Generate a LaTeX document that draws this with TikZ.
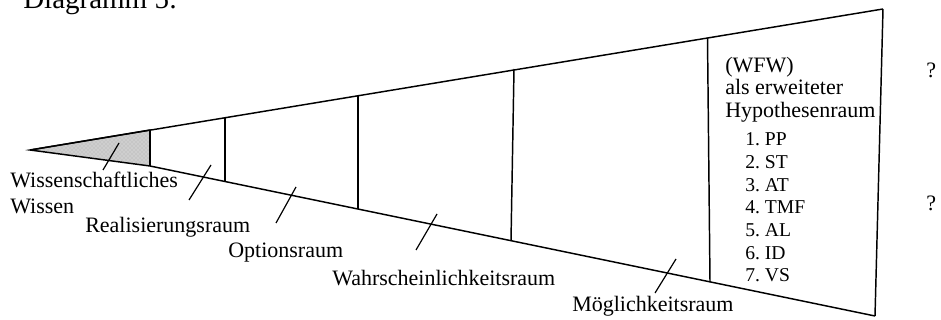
\documentclass[tikz,border=0pt]{standalone}
\usepackage{fontspec}
\setmainfont{Liberation Serif}
\usetikzlibrary{patterns}

\tikzset{
  edge/.style={line width=1.1pt, color=black},
  pointer/.style={line width=0.9pt, color=black},
  label/.style={inner sep=0pt, anchor=base west, font=\fontsize{16.5}{19}\selectfont},
  listitem/.style={inner sep=0pt, anchor=base west, font=\fontsize{14.7}{17}\selectfont}
}

\begin{document}
\begin{tikzpicture}[x=0.75pt,y=0.75pt,yscale=-1,xscale=1]
\useasboundingbox (0,0) rectangle (941,320);

% shaded part at the tip
\draw [edge, preaction={fill=gray!45}, pattern=crosshatch dots, pattern color=white!85!gray]
  (30,150) -- (150,130) -- (150,166) -- cycle ;
\draw [line width=1.6pt] (150,130) -- (150,166) ;

% the two long sides
\draw [edge] (30,150) -- (883,9) ;
\draw [edge] (150,166) -- (875,316) ;
\draw [edge] (883,9) -- (875,316) ;

% inner borders
\draw [edge] (225,117) -- (225,182.5) ;
\draw [edge] (358,95.5) -- (358,209.5) ;
\draw [edge] (514,69) -- (511,240.5) ;
\draw [edge] (707.5,38) -- (710,282) ;

% pointer strokes
\draw [pointer] (103,170) -- (119,143) ;
\draw [pointer] (189,200) -- (211,165) ;
\draw [pointer] (276,223) -- (296,187) ;
\draw [pointer] (416,250) -- (437,214) ;
\draw [pointer] (655,293) -- (676,259) ;

% Text Node
\draw (23,9) node [label, font=\fontsize{21.75}{24}\selectfont] (title) {Diagramm 5:};

\draw (10,188) node [label] (wiss1) {Wissenschaftliches};
\draw (10,213.5) node [label] (wiss2) {Wissen};
\draw (85,232.5) node [label] (real) {Realisierungsraum};
\draw (228,257) node [label] (opt) {Optionsraum};
\draw (332,285) node [label] (wahr) {Wahrscheinlichkeitsraum};
\draw (572,311.5) node [label] (moeg) {Möglichkeitsraum};

\draw (725,72.5) node [label] (wfw) {(WFW)};
\draw (725,95) node [label] (erw) {als erweiteter};
\draw (725,117.5) node [label] (hyp) {Hypothesenraum};

\foreach \i/\t in {1/PP,2/ST,3/AT,4/TMF,5/AL,6/ID,7/VS}
  \draw (745,{146+22.6*(\i-1)}) node [listitem] (item\i) {\i.\ \t};

\draw (926,78) node [label] (q1) {?};
\draw (926,210) node [label] (q2) {?};

\end{tikzpicture}
\end{document}
